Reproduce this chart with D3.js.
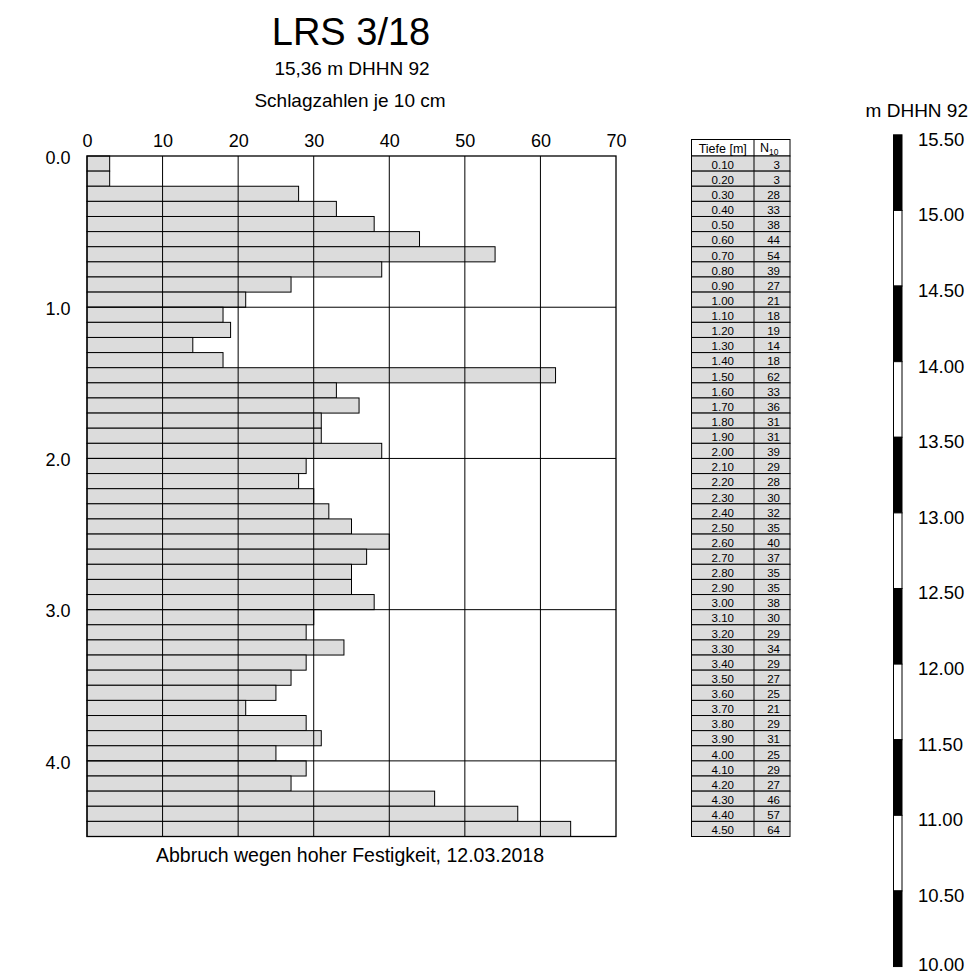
<!DOCTYPE html>
<html>
<head>
<meta charset="utf-8">
<script src="https://cdn.jsdelivr.net/npm/d3@7"></script>
<style>
  html, body { margin: 0; padding: 0; background: #fff; }
  svg { display: block; font-family: "Liberation Sans", Arial, sans-serif; }
</style>
</head>
<body>
<svg id="chart" width="971" height="976"></svg>
<script>
// Sounding LRS 3/18 – blow counts per 10 cm penetration
const depthLabels = ["0.10","0.20","0.30","0.40","0.50","0.60","0.70","0.80","0.90","1.00",
  "1.10","1.20","1.30","1.40","1.50","1.60","1.70","1.80","1.90","2.00",
  "2.10","2.20","2.30","2.40","2.50","2.60","2.70","2.80","2.90","3.00",
  "3.10","3.20","3.30","3.40","3.50","3.60","3.70","3.80","3.90","4.00",
  "4.10","4.20","4.30","4.40","4.50"];
const n10 = [3,3,28,33,38,44,54,39,27,21,
  18,19,14,18,62,33,36,31,31,39,
  29,28,30,32,35,40,37,35,35,38,
  30,29,34,29,27,25,21,29,31,25,
  29,27,46,57,64];
const xTicks = [0,10,20,30,40,50,60,70];
const depthTicks = [0,1,2,3,4];
const elevTicks = [15.5,15.0,14.5,14.0,13.5,13.0,12.5,12.0,11.5,11.0,10.5,10.0];
const groundElev = 15.36;
const maxDepth = 4.5;

const svg = d3.select("#chart");
const W = 971, H = 976;

const x = d3.scaleLinear().domain([0, 70]).range([87, 616]);
const y = d3.scaleLinear().domain([0, maxDepth]).range([156, 836.5]);
const elev = d3.scaleLinear().domain([groundElev, groundElev - maxDepth]).range(y.range());

const rows = depthLabels.map((d, i) => ({ top: +d - 0.1, bottom: +d, label: d, n: n10[i] }));

// Titles
svg.append("text").attr("x", 351).attr("y", 45).attr("text-anchor", "middle")
  .attr("font-size", 38).text("LRS 3/18");
svg.append("text").attr("x", 352).attr("y", 75).attr("text-anchor", "middle")
  .attr("font-size", 19).text("15,36 m DHHN 92");
svg.append("text").attr("x", 350).attr("y", 106.5).attr("text-anchor", "middle")
  .attr("font-size", 19).text("Schlagzahlen je 10 cm");

// Bars
const plot = svg.append("g");
plot.selectAll("rect.bar").data(rows).join("rect")
  .attr("class", "bar")
  .attr("x", x(0))
  .attr("y", d => y(d.top))
  .attr("width", d => x(d.n) - x(0))
  .attr("height", d => y(d.bottom) - y(d.top))
  .attr("fill", "#dcdcdc").attr("stroke", "#000").attr("stroke-width", 1);

// Grid lines
plot.selectAll("line.vgrid").data(xTicks.slice(1, -1)).join("line")
  .attr("x1", d => x(d)).attr("x2", d => x(d))
  .attr("y1", y(0)).attr("y2", y(maxDepth))
  .attr("stroke", "#000").attr("stroke-width", 1);
plot.selectAll("line.hgrid").data(depthTicks.slice(1)).join("line")
  .attr("x1", x(0)).attr("x2", x(70))
  .attr("y1", d => y(d)).attr("y2", d => y(d))
  .attr("stroke", "#000").attr("stroke-width", 1);
plot.append("rect")
  .attr("x", x(0)).attr("y", y(0))
  .attr("width", x(70) - x(0)).attr("height", y(maxDepth) - y(0))
  .attr("fill", "none").attr("stroke", "#000").attr("stroke-width", 1.3);

// Axis labels
const axisFont = "Liberation Sans, Arial, sans-serif";
const xAxis = d3.axisTop(x).tickValues(xTicks).tickSize(0).tickPadding(9.5);
svg.append("g").attr("transform", `translate(0,${y(0)})`).call(xAxis)
  .call(g => g.select(".domain").remove())
  .call(g => g.selectAll("text").attr("font-size", 18).attr("fill", "#000")
    .attr("font-family", axisFont));

const yAxis = d3.axisLeft(y).tickValues(depthTicks).tickFormat(d3.format(".1f")).tickSize(0).tickPadding(16.5);
svg.append("g").attr("transform", `translate(${x(0)},1.5)`).call(yAxis)
  .call(g => g.select(".domain").remove())
  .call(g => g.selectAll("text").attr("font-size", 18).attr("fill", "#000")
    .attr("font-family", axisFont));

svg.append("text").attr("x", 350).attr("y", 861.5).attr("text-anchor", "middle")
  .attr("font-size", 19.5).text("Abbruch wegen hoher Festigkeit, 12.03.2018");

// Data table
const tLeft = 691.5, tMid = 754, tRight = 790, headH = 16.5;
const table = svg.append("g").attr("font-size", 11.5);
table.append("rect").attr("x", tLeft).attr("y", y(0) - headH)
  .attr("width", tRight - tLeft).attr("height", headH)
  .attr("fill", "#fff").attr("stroke", "#000").attr("stroke-width", 1);
table.append("line").attr("x1", tMid).attr("x2", tMid)
  .attr("y1", y(0) - headH).attr("y2", y(0)).attr("stroke", "#000");
table.append("text").attr("x", (tLeft + tMid) / 2).attr("y", y(0) - 3.5)
  .attr("text-anchor", "middle").attr("font-size", 12.5).text("Tiefe [m]");
const nh = table.append("text").attr("x", 760).attr("y", y(0) - 4).attr("font-size", 12.5);
nh.append("tspan").text("N");
nh.append("tspan").attr("font-size", 8.5).attr("dy", 2.5).text("10");

const tr = table.selectAll("g.row").data(rows).join("g").attr("class", "row");
tr.append("rect").attr("x", tLeft).attr("y", d => y(d.top))
  .attr("width", tRight - tLeft).attr("height", d => y(d.bottom) - y(d.top))
  .attr("fill", "#dcdcdc").attr("stroke", "#000").attr("stroke-width", 1);
tr.append("line").attr("x1", tMid).attr("x2", tMid)
  .attr("y1", d => y(d.top)).attr("y2", d => y(d.bottom)).attr("stroke", "#000");
tr.append("text").attr("x", (tLeft + tMid) / 2).attr("y", d => y(d.bottom) - 2.3)
  .attr("text-anchor", "middle").text(d => d.label);
tr.append("text").attr("x", 780).attr("y", d => y(d.bottom) - 2.3)
  .attr("text-anchor", "end").text(d => d.n);

// Elevation scale
svg.append("text").attr("x", 968).attr("y", 116.5).attr("text-anchor", "end")
  .attr("font-size", 19).text("m DHHN 92");
const segs = d3.pairs(elevTicks).map((p, i) => ({ hi: p[0], lo: p[1], dark: i % 2 === 0 }));
svg.append("g").selectAll("rect").data(segs).join("rect")
  .attr("x", 893.5).attr("width", 8.5)
  .attr("y", d => elev(d.hi)).attr("height", d => elev(d.lo) - elev(d.hi))
  .attr("fill", d => d.dark ? "#000" : "#fff")
  .attr("stroke", "#000").attr("stroke-width", 1);
svg.append("g").selectAll("text").data(elevTicks).join("text")
  .attr("x", 918).attr("y", d => Math.min(elev(d) + 11, H - 5))
  .attr("font-size", 18.5).text(d => d.toFixed(2));
</script>
</body>
</html>
